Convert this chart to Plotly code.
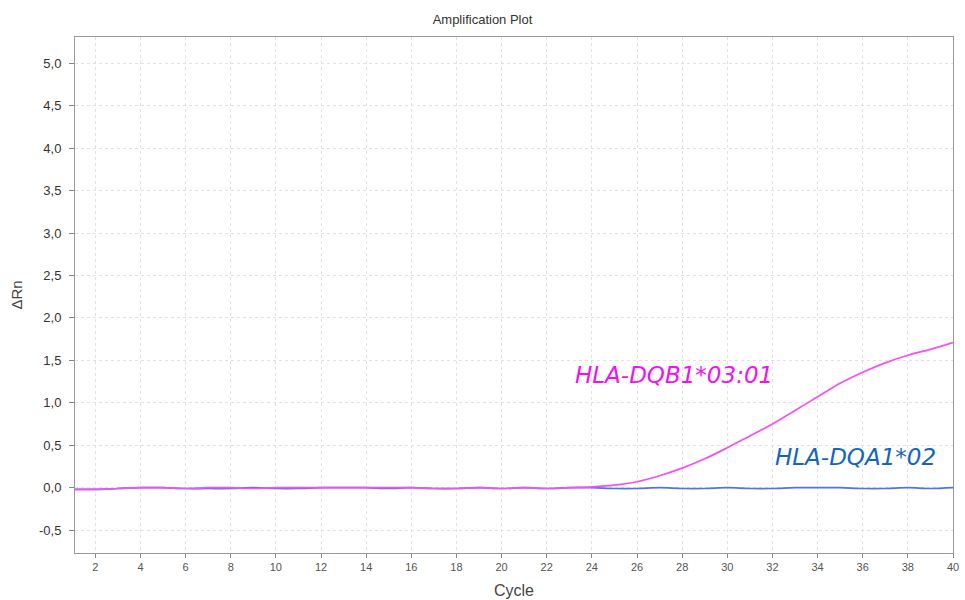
import plotly.graph_objects as go

cycles = list(range(1, 41))
dqb1 = [-0.02, -0.02, -0.01, 0.0, 0.0, -0.01, 0.0, 0.0, -0.01, 0.0,
        0.0, 0.0, 0.0, 0.0, 0.0, 0.0, -0.01, -0.01, 0.0, -0.01,
        0.0, -0.01, 0.0, 0.01, 0.03, 0.07, 0.14, 0.23, 0.34, 0.47,
        0.61, 0.75, 0.91, 1.07, 1.23, 1.36, 1.47, 1.56, 1.63, 1.71]
dqa1 = [-0.02, -0.02, -0.01, 0.0, 0.0, -0.01, -0.01, -0.01, 0.0, -0.01,
        -0.01, 0.0, 0.0, 0.0, -0.01, 0.0, -0.01, -0.01, 0.0, -0.01,
        0.0, -0.01, 0.0, 0.0, -0.01, -0.01, 0.0, -0.01, -0.01, 0.0,
        -0.01, -0.01, 0.0, 0.0, 0.0, -0.01, -0.01, 0.0, -0.01, 0.0]
x_ticks = list(range(2, 41, 2))
y_ticks = [-0.5, 0.0, 0.5, 1.0, 1.5, 2.0, 2.5, 3.0, 3.5, 4.0, 4.5, 5.0]
y_tick_text = ["-0,5", "0,0", "0,5", "1,0", "1,5", "2,0", "2,5", "3,0", "3,5", "4,0", "4,5", "5,0"]
labels = ["HLA-DQB1*03:01", "HLA-DQA1*02"]

fig = go.Figure()
fig.add_trace(go.Scatter(x=cycles, y=dqa1, mode="lines",
                         line=dict(color="#4f74e8", width=1.7, shape="spline"),
                         name=labels[1]))
fig.add_trace(go.Scatter(x=cycles, y=dqb1, mode="lines",
                         line=dict(color="#f550f5", width=1.7, shape="spline"),
                         name=labels[0]))

fig.add_annotation(x=27.63, y=1.33, text="<i>" + labels[0] + "</i>", showarrow=False,
                   font=dict(family="DejaVu Sans", size=23, color="#f012f0"),
                   xref="x", yref="y")
fig.add_annotation(x=35.66, y=0.36, text="<i>" + labels[1] + "</i>", showarrow=False,
                   font=dict(family="DejaVu Sans", size=23, color="#1565bd"),
                   xref="x", yref="y")

fig.update_layout(
    width=965, height=600,
    margin=dict(l=75, r=12, t=37, b=47),
    paper_bgcolor="white", plot_bgcolor="white",
    showlegend=False,
    title=dict(text="Amplification Plot", x=0.5, xanchor="center", y=0.967, yanchor="middle",
               font=dict(family="Liberation Sans, Arial", size=13, color="#333")),
    font=dict(family="Liberation Sans, Arial", color="#333"),
)
fig.update_xaxes(range=[1.1, 40], tickvals=x_ticks, ticks="outside", ticklen=4,
                 tickcolor="#888", showline=True, linecolor="#999", mirror=True,
                 showgrid=True, gridcolor="#e2e2e2", griddash="dot", zeroline=False,
                 automargin=False,
                 tickfont=dict(size=11, color="#555"),
                 title=dict(text="Cycle", font=dict(size=16, color="#444"), standoff=12))
fig.update_yaxes(range=[-0.77, 5.31], tickvals=y_ticks, ticktext=y_tick_text, ticks="outside",
                 ticklen=5, tickcolor="#888", showline=True, linecolor="#999", mirror=True,
                 showgrid=True, gridcolor="#e2e2e2", griddash="dot", zeroline=False,
                 automargin=False, ticklabelstandoff=5,
                 tickfont=dict(size=13, color="#333"),
                 title=dict(text="ΔRn", font=dict(size=15, color="#444"), standoff=12))

fig.write_html("out.html")
